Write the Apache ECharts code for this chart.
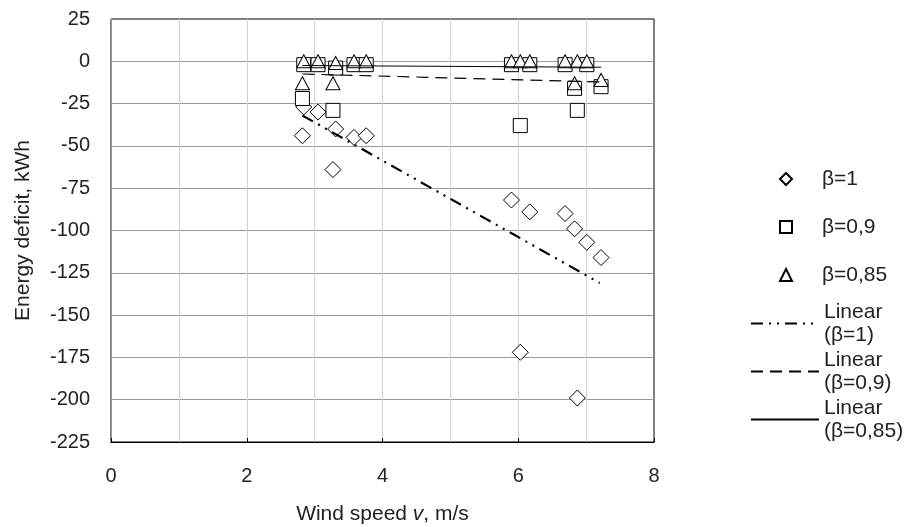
<!DOCTYPE html>
<html>
<head>
    <meta charset="UTF-8">
    <title>Energy deficit vs wind speed</title>
    <style>
        html, body { margin: 0; padding: 0; background: #fff; }
        #chart { width: 911px; height: 527px; }
    </style>
</head>
<body>
    <div id="chart"></div>

    <script src="https://cdn.jsdelivr.net/npm/echarts@6/dist/echarts.min.js"></script>
    <script>
        // wind speed of each measured day, m/s
        var windSpeed = [2.82, 2.84, 3.05, 3.27, 3.31, 3.58, 3.76, 5.90, 6.03, 6.17, 6.69, 6.83, 6.87, 7.01, 7.22];
        // energy deficit, kWh
        var deficitB1   = [-44, -27, -30, -64, -40, -45, -44, -82, -172, -89, -90, -99, -199, -107, -116];
        var deficitB09  = [-22, -2, -2, -29, -4, -2, -2, -2, -38, -2, -2, -16, -29, -2, -15];
        var deficitB085 = [-13, 0, 0, -13, -1, 0, 0, 0, 0, 0, 0, -13, 0, 0, -11];
        // linear trend end points [speed, deficit]
        var trendB1   = [[2.82, -32], [7.2, -131]];
        var trendB09  = [[2.82, -7.5], [7.22, -12.2]];
        var trendB085 = [[2.82, -2.5], [7.22, -3.5]];

        var names = ['β=1', 'β=0,9', 'β=0,85'];
        var trendNames = ['Linear (β=1)', 'Linear (β=0,9)', 'Linear (β=0,85)'];

        var font = "'Liberation Sans', Arial, sans-serif";

        function pairs(xs, ys) {
            return xs.map(function (x, i) { return [x, ys[i]]; });
        }

        function scatter(name, ys, symbol, size) {
            return {
                name: name,
                type: 'scatter',
                symbol: symbol,
                symbolSize: size,
                itemStyle: { color: '#fff', borderColor: '#000', borderWidth: 1, opacity: 1 },
                data: pairs(windSpeed, ys)
            };
        }

        function trend(name, pts, width, type) {
            return {
                name: name,
                type: 'line',
                symbol: 'none',
                z: 5,
                itemStyle: { color: '#000' },
                lineStyle: { color: '#000', width: width, type: type },
                data: pts
            };
        }

        // one legend per trend line so the line sits beside the first text row
        function lineLegend(name, top) {
            return {
                data: [name],
                left: 750,
                top: top,
                padding: 0,
                itemWidth: 68,
                itemHeight: 10,
                itemStyle: { opacity: 0 },
                formatter: function (n) { return n.replace(' ', '\n'); },
                textStyle: { fontFamily: font, fontSize: 21, color: '#222', lineHeight: 23, padding: [23, 0, 0, 0] }
            };
        }

        var chart = echarts.init(document.getElementById('chart'));
        chart.setOption({
            animation: false,
            grid: {
                left: 111, right: 257, top: 19, bottom: 85,
                outerBoundsMode: 'none',
                show: true, borderColor: '#000', borderWidth: 1, backgroundColor: '#fff'
            },
            legend: [
                {
                    data: names,
                    orient: 'vertical',
                    left: 779,
                    top: 167,
                    padding: 0,
                    itemWidth: 12,
                    itemHeight: 12,
                    itemGap: 24,
                    textStyle: { fontFamily: font, fontSize: 21, color: '#222', lineHeight: 24, padding: [0, 0, 0, 25] }
                },
                lineLegend(trendNames[0], 289),
                lineLegend(trendNames[1], 337),
                lineLegend(trendNames[2], 385)
            ],
            xAxis: {
                type: 'value',
                min: 0, max: 8, interval: 2,
                name: '{a|Wind speed }{i|v}{a|, m/s}',
                nameLocation: 'middle',
                nameGap: 62,
                nameTextStyle: {
                    rich: {
                        a: { fontFamily: font, fontSize: 21, color: '#222' },
                        i: { fontFamily: font, fontSize: 21, color: '#222', fontStyle: 'italic' }
                    }
                },
                axisLine: { onZero: false, lineStyle: { color: '#000', width: 1 } },
                axisTick: { inside: true, length: 4, lineStyle: { color: '#000' } },
                axisLabel: { margin: 24, fontFamily: font, fontSize: 20, color: '#222' },
                splitLine: { show: true, showMinLine: false, showMaxLine: false, lineStyle: { color: '#cfcfcf' } },
                minorTick: { show: false, splitNumber: 2 },
                minorSplitLine: { show: true, lineStyle: { color: '#cfcfcf' } }
            },
            yAxis: {
                type: 'value',
                min: -225, max: 25, interval: 25,
                name: 'Energy deficit, kWh',
                nameLocation: 'middle',
                nameGap: 77,
                nameTextStyle: { fontFamily: font, fontSize: 21, color: '#222' },
                axisLine: { show: true, lineStyle: { color: '#999' } },
                axisTick: { show: false },
                axisLabel: { margin: 21, fontFamily: font, fontSize: 20, color: '#222' },
                splitLine: { show: true, showMinLine: false, showMaxLine: false, lineStyle: { color: '#9a9a9a' } }
            },
            series: [
                scatter(names[0], deficitB1, 'diamond', [16, 16]),
                scatter(names[1], deficitB09, 'rect', [14, 14]),
                scatter(names[2], deficitB085, 'triangle', [14, 13]),
                trend(trendNames[0], trendB1, 2.2, [12, 6, 2, 6, 2, 6]),
                trend(trendNames[1], trendB09, 1.2, [12, 7]),
                trend(trendNames[2], trendB085, 1, 'solid')
            ]
        });
    </script>
</body>
</html>
